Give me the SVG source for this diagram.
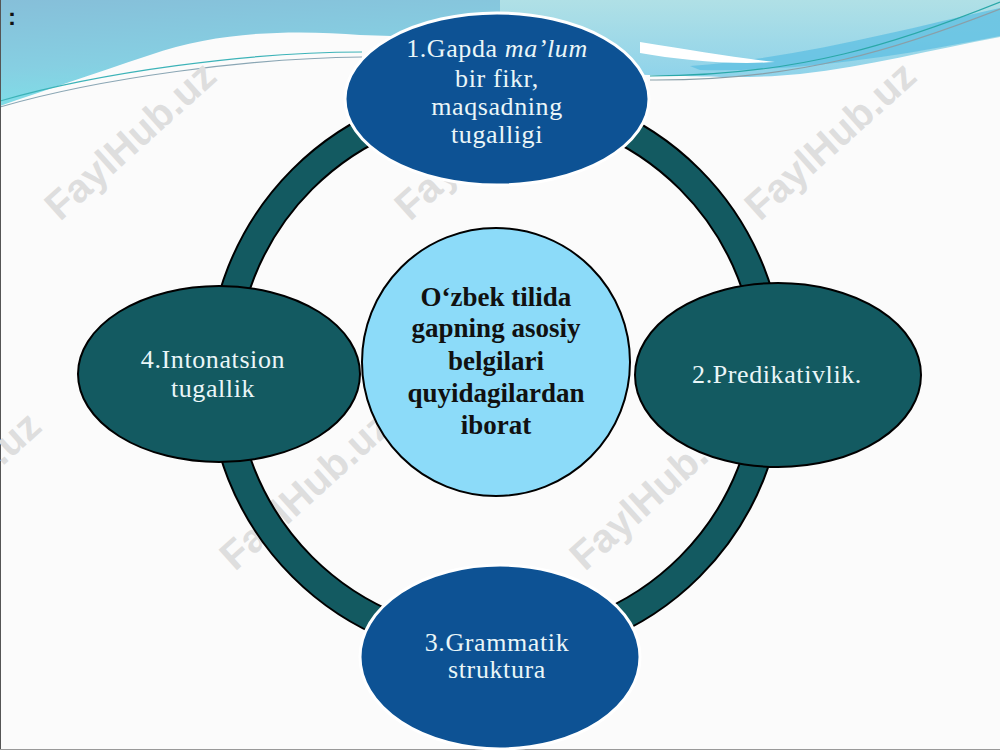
<svg xmlns="http://www.w3.org/2000/svg" width="1000" height="750" viewBox="0 0 1000 750">
  <defs>
    <linearGradient id="skyL" x1="0" y1="0" x2="0.3" y2="1">
      <stop offset="0" stop-color="#86bfd9"/>
      <stop offset="0.6" stop-color="#86cfe2"/>
      <stop offset="1" stop-color="#7ee0e8"/>
    </linearGradient>
    <linearGradient id="skyR" x1="0" y1="0" x2="0" y2="1">
      <stop offset="0" stop-color="#b0e0e6"/>
      <stop offset="1" stop-color="#8fd3ea"/>
    </linearGradient>
    <style>
      .wm { font-family: "Liberation Sans", Arial, sans-serif; font-weight: bold; font-size: 40px; fill: #dedede; }
      .teal { fill: #135a61; stroke: #000; stroke-width: 2; }
      .blue { fill: #0d5294; stroke: #ffffff; stroke-width: 3; }
      .lbl { font-family: "Liberation Serif", "DejaVu Serif", serif; font-size: 26px; fill: #eaf6f8; text-anchor: middle; letter-spacing: 0.6px; }
      .ctr { font-family: "Liberation Serif", "DejaVu Serif", serif; font-size: 27px; font-weight: bold; fill: #111; text-anchor: middle; }
    </style>
  </defs>

  <!-- background -->
  <rect x="0" y="0" width="1000" height="750" fill="#fbfbfb"/>
  <path d="M0,0 H520 V40 L360,35 C300,30 220,30 150,55 C90,75 40,92 0,106 Z" fill="url(#skyL)"/>
  <path d="M500,0 H1000 V37 C930,50 870,66 800,74 C740,80 690,76 500,70 Z" fill="url(#skyR)"/>
  <path d="M690,66 C800,58 900,30 1000,8 L1000,36 C900,56 800,72 700,70 Z" fill="#62c0e2" opacity="0.8"/>
  <path d="M640,42 C690,50 730,57 775,62 C730,65 680,60 640,53 Z" fill="#ffffff"/>
  <path d="M0,101 C100,72 250,52 362,52" fill="none" stroke="#3cb3b8" stroke-width="1.2"/>
  <path d="M0,107 C100,78 250,58 362,57" fill="none" stroke="#8aa6b4" stroke-width="1.2"/>
  <path d="M650,76 C800,76 900,42 1000,2" fill="none" stroke="#2aa8a8" stroke-width="1.2"/>
  <path d="M650,80 C800,81 900,48 1000,9" fill="none" stroke="#8a9fa8" stroke-width="1.2"/>
  <line x1="0.5" y1="0" x2="0.5" y2="750" stroke="#555" stroke-width="1"/>
  <line x1="0" y1="749.5" x2="1000" y2="749.5" stroke="#999" stroke-width="1"/>
  <text x="8" y="25" font-family="Liberation Sans, Arial, sans-serif" font-size="24" font-weight="bold" fill="#111">:</text>

  <!-- watermarks -->
  <g id="watermarks">
    <text class="wm" transform="translate(60,222) rotate(-42)">FaylHub.uz</text>
    <text class="wm" transform="translate(410,222) rotate(-42)">FaylHub.uz</text>
    <text class="wm" transform="translate(760,222) rotate(-42)">FaylHub.uz</text>
    <text class="wm" transform="translate(-115,572) rotate(-42)">FaylHub.uz</text>
    <text class="wm" transform="translate(235,572) rotate(-42)">FaylHub.uz</text>
    <text class="wm" transform="translate(585,572) rotate(-42)">FaylHub.uz</text>
  </g>

  <!-- connectors: ring -->
  <g id="connectors">
    <circle cx="496" cy="373" r="274" fill="none" stroke="#000" stroke-width="30"/>
    <circle cx="496" cy="373" r="274" fill="none" stroke="#135a61" stroke-width="26"/>
  </g>

  <g id="node-center">
    <circle cx="496" cy="362" r="134" fill="#8cdbf9" stroke="#000" stroke-width="2"/>
    <text class="ctr" x="496" y="306">O‘zbek tilida</text>
    <text class="ctr" x="496" y="337">gapning asosiy</text>
    <text class="ctr" x="496" y="370">belgilari</text>
    <text class="ctr" x="496" y="402">quyidagilardan</text>
    <text class="ctr" x="496" y="434">iborat</text>
  </g>

  <g id="node-1">
    <ellipse class="blue" cx="497" cy="99" rx="152" ry="86"/>
    <text class="lbl" x="497" y="57">1.Gapda <tspan font-style="italic">ma’lum</tspan></text>
    <text class="lbl" x="497" y="87">bir fikr,</text>
    <text class="lbl" x="497" y="115">maqsadning</text>
    <text class="lbl" x="497" y="143">tugalligi</text>
  </g>

  <g id="node-2">
    <ellipse class="teal" cx="778" cy="375" rx="143" ry="92"/>
    <text class="lbl" x="777" y="383">2.Predikativlik.</text>
  </g>

  <g id="node-3">
    <ellipse class="blue" cx="500" cy="657" rx="140" ry="92"/>
    <text class="lbl" x="497" y="651">3.Grammatik</text>
    <text class="lbl" x="497" y="678">struktura</text>
  </g>

  <g id="node-4">
    <ellipse class="teal" cx="219" cy="374" rx="141" ry="88"/>
    <text class="lbl" x="213" y="368">4.Intonatsion</text>
    <text class="lbl" x="213" y="397">tugallik</text>
  </g>
</svg>
